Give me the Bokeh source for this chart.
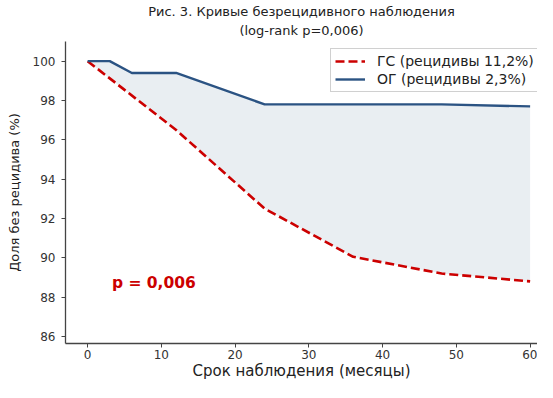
from bokeh.plotting import figure
from bokeh.models import Range1d, Title, Legend, LegendItem, FixedTicker, Label
from bokeh.embed import file_html
from bokeh.resources import INLINE

months_gs = [0, 12, 24, 36, 48, 60]
surv_gs = [100.0, 96.5, 92.5, 90.05, 89.2, 88.8]
months_og = [0, 3, 6, 12, 24, 48, 60]
surv_og = [100.0, 100.0, 99.4, 99.4, 97.8, 97.8, 97.7]
x_ticks = [0, 10, 20, 30, 40, 50, 60]
y_ticks = [86, 88, 90, 92, 94, 96, 98, 100]
label_gs = "ГС (рецидивы 11,2%)"
label_og = "ОГ (рецидивы 2,3%)"
title1 = "Рис. 3. Кривые безрецидивного наблюдения"
title2 = "(log-rank p=0,006)"
x_label = "Срок наблюдения (месяцы)"
y_label = "Доля без рецидива (%)"
p_text = "p = 0,006"

RED = "#cc0000"
BLUE = "#2b5383"
FONT = "DejaVu Sans"

p = figure(width=537, height=382, output_backend="svg", toolbar_location=None,
           x_range=Range1d(-3, 61), y_range=Range1d(85.64, 101),
           min_border_left=65, min_border_right=0, min_border_top=41, min_border_bottom=38)
p.title = None
p.add_layout(Title(text=title2, align="center", text_font=FONT, text_font_size="13px",
                   text_font_style="normal", text_color="#222222", standoff=8,
                   text_line_height=1.0), "above")
p.add_layout(Title(text=title1, align="center", text_font=FONT, text_font_size="13px",
                   text_font_style="normal", text_color="#222222", standoff=-4,
                   text_line_height=1.0), "above")

# shaded band between the two curves
band_x = months_gs + months_og[::-1]
band_y = surv_gs + surv_og[::-1]
p.patch(band_x, band_y, fill_color="#e9eef2", fill_alpha=1.0, line_color=None)

r_gs = p.line(months_gs, surv_gs, line_color=RED, line_width=2.6, line_dash="9 4")
r_og = p.line(months_og, surv_og, line_color=BLUE, line_width=2.4)

p.add_layout(Label(x=3.3, y=88.7, text=p_text, text_color=RED, text_font=FONT,
                   text_font_size="15.5px", text_font_style="bold", text_baseline="middle"))

legend = Legend(items=[LegendItem(label=label_gs, renderers=[r_gs]),
                       LegendItem(label=label_og, renderers=[r_og])],
                location=(265, 251), margin=0,
                label_text_font=FONT, label_text_font_size="14px",
                label_text_color="#222222", border_line_color="#d0d0d0", border_line_alpha=1,
                background_fill_alpha=0.85, glyph_width=30, glyph_height=16, spacing=2,
                padding=4, label_standoff=12, label_height=16)
p.add_layout(legend)

p.xgrid.visible = False
p.ygrid.visible = False
p.outline_line_color = None

for ax in (p.xaxis[0], p.yaxis[0]):
    ax.axis_line_color = "#444444"
    ax.axis_line_width = 1.3
    ax.major_tick_line_color = "#444444"
    ax.major_tick_out = 4
    ax.major_tick_in = 0
    ax.minor_tick_out = 0
    ax.minor_tick_in = 0
    ax.major_label_text_font = FONT
    ax.major_label_text_font_size = "12px"
    ax.major_label_text_color = "#333333"
    ax.axis_label_text_font = FONT
    ax.axis_label_text_font_style = "normal"
    ax.axis_label_text_color = "#222222"

p.xaxis[0].ticker = FixedTicker(ticks=x_ticks)
p.yaxis[0].ticker = FixedTicker(ticks=y_ticks)
p.xaxis.axis_label = x_label
p.yaxis.axis_label = y_label
p.xaxis.axis_label_text_font_size = "15px"
p.yaxis.axis_label_text_font_size = "13px"
p.xaxis.major_label_standoff = 2
p.xaxis.axis_label_standoff = 0
p.yaxis.major_label_standoff = 6
p.yaxis.axis_label_standoff = 8

open("out.html", "w").write(file_html(p, INLINE))
